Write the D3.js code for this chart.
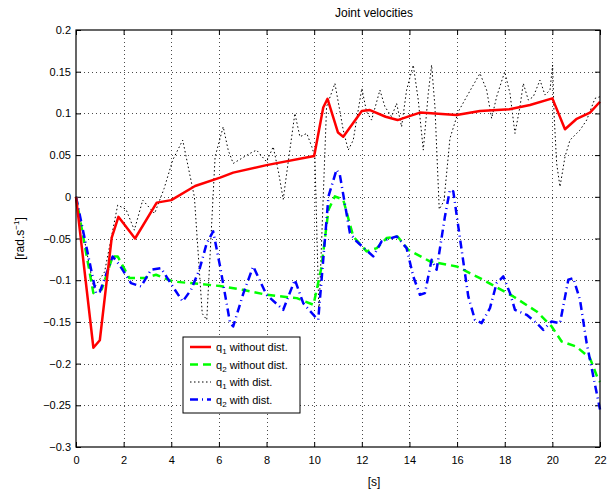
<!DOCTYPE html>
<html>
<head>
<meta charset="utf-8">
<script src="https://cdn.jsdelivr.net/npm/d3@7"></script>
<style>
  body { margin: 0; background: #fff; }
  svg { display: block; font-family: "Liberation Sans", Arial, sans-serif; }
</style>
</head>
<body>
<div class="main"></div>
<script>
// q1 without disturbance (red solid)
const q1NoDistT = [0, 0.73, 1.0, 1.5, 1.78, 2.48, 3.39, 4.0, 5.0, 6.05, 6.6, 8.0, 10.0, 10.38, 10.56, 11.0, 11.22, 12.0, 12.34, 13.0, 13.5, 14.44, 15.98, 16.96, 18.2, 19.06, 20.0, 20.53, 21.0, 21.58, 22];
const q1NoDistV = [0, -0.181, -0.172, -0.049, -0.024, -0.050, -0.007, -0.004, 0.013, 0.023, 0.029, 0.038, 0.049, 0.107, 0.1175, 0.077, 0.072, 0.103, 0.104, 0.096, 0.092, 0.101, 0.098, 0.103, 0.105, 0.110, 0.118, 0.081, 0.093, 0.101, 0.114];

// q2 without disturbance (green dashed)
const q2NoDistT = [0, 0.73, 1.08, 1.54, 1.75, 2.24, 2.87, 3.36, 4.06, 5.18, 6.05, 7.0, 8.0, 9.27, 9.97, 10.3, 10.6, 10.87, 11.22, 11.64, 12.2, 12.63, 13.04, 13.5, 13.95, 14.86, 15.98, 16.96, 18.36, 19.34, 19.97, 20.39, 21.0, 21.58, 21.93, 22];
const q2NoDistV = [0, -0.1155, -0.111, -0.0715, -0.0715, -0.0975, -0.0975, -0.0935, -0.1015, -0.1045, -0.107, -0.1115, -0.1175, -0.1215, -0.1295, -0.0855, -0.0155, 0.0005, -0.0035, -0.0475, -0.0655, -0.0615, -0.0495, -0.0475, -0.0635, -0.0775, -0.0835, -0.0975, -0.1195, -0.1375, -0.1555, -0.1735, -0.1795, -0.1935, -0.2195, -0.222];

// q1 with disturbance (black dotted)
const q1DistT = [0, 0.75, 1.2, 1.75, 2.1, 2.45, 2.8, 3.3, 3.7, 4.06, 4.48, 4.97, 5.3, 5.49, 5.84, 6.18, 6.39, 6.6, 7.3, 7.58, 8.0, 8.28, 8.5, 8.7, 8.92, 9.19, 9.4, 9.69, 9.9, 10.03, 10.2, 10.52, 10.87, 11.22, 11.43, 11.64, 12.0, 12.2, 12.41, 12.76, 12.97, 13.25, 13.46, 13.67, 13.88, 14.16, 14.37, 14.58, 14.79, 14.93, 15.07, 15.25, 15.45, 15.7, 16.05, 16.4, 16.96, 17.24, 17.45, 17.66, 18.0, 18.22, 18.43, 18.64, 18.78, 18.99, 19.2, 19.48, 19.69, 19.9, 20.01, 20.07, 20.18, 20.32, 20.53, 20.74, 21.16, 21.44, 21.79, 22];
const q1DistV = [0, -0.11, -0.09, -0.01, -0.015, -0.04, -0.004, -0.02, 0.01, 0.044, 0.068, 0.0, -0.14, -0.1475, 0.048, 0.084, 0.056, 0.040, 0.052, 0.056, 0.042, 0.06, 0.03, -0.003, 0.044, 0.1, 0.072, 0.076, 0.06, 0.048, -0.14, 0.108, 0.136, 0.080, 0.056, 0.068, 0.130, 0.102, 0.092, 0.128, 0.108, 0.096, 0.112, 0.084, 0.128, 0.158, 0.116, 0.056, 0.124, 0.158, 0.108, -0.015, -0.005, 0.07, 0.102, 0.12, 0.148, 0.128, 0.094, 0.12, 0.15, 0.124, 0.076, 0.108, 0.136, 0.116, 0.12, 0.14, 0.122, 0.128, 0.158, 0.1, 0.04, 0.012, 0.048, 0.068, 0.08, 0.092, 0.118, 0.12];

// q2 with disturbance (blue dash-dot)
const q2DistT = [0, 0.84, 1.0, 1.54, 1.82, 2.31, 2.73, 3.15, 3.57, 4.06, 4.48, 4.83, 5.18, 5.49, 5.76, 6.05, 6.47, 6.6, 7.03, 7.44, 8.0, 8.7, 9.19, 9.54, 10.03, 10.17, 10.45, 10.6, 10.94, 11.08, 11.5, 11.78, 12.48, 12.83, 13.46, 13.88, 14.16, 14.44, 14.65, 14.93, 15.14, 15.49, 15.7, 15.84, 16.19, 16.47, 16.75, 17.03, 17.38, 17.66, 17.94, 18.22, 18.43, 18.92, 19.34, 19.62, 19.97, 20.32, 20.67, 20.88, 21.16, 21.44, 21.72, 22];
const q2DistV = [0, -0.1155, -0.114, -0.0715, -0.0815, -0.1035, -0.1075, -0.0875, -0.0855, -0.1075, -0.1255, -0.1115, -0.0875, -0.0555, -0.0415, -0.0835, -0.1515, -0.1555, -0.1155, -0.0835, -0.1175, -0.1355, -0.0995, -0.1275, -0.1435, -0.1475, -0.0515, 0.0005, 0.0325, 0.026, -0.0435, -0.0535, -0.0715, -0.0535, -0.0475, -0.0615, -0.0955, -0.1175, -0.1155, -0.0755, -0.0875, -0.0235, 0.0085, 0.0065, -0.0635, -0.1195, -0.1475, -0.1515, -0.1335, -0.1035, -0.0955, -0.1155, -0.1355, -0.1415, -0.1515, -0.1595, -0.1495, -0.1515, -0.0995, -0.0975, -0.1235, -0.1755, -0.2155, -0.255];

const xTicks = [0, 2, 4, 6, 8, 10, 12, 14, 16, 18, 20, 22];
const yTicks = [-0.3, -0.25, -0.2, -0.15, -0.1, -0.05, 0, 0.05, 0.1, 0.15, 0.2];

const series = [
  { name: "1", label: " without dist.", t: q1NoDistT, v: q1NoDistV, color: "#ff0000", width: 2.5, dash: null },
  { name: "2", label: " without dist.", t: q2NoDistT, v: q2NoDistV, color: "#00ff00", width: 2.5, dash: "8,5" },
  { name: "1", label: " with dist.", t: q1DistT, v: q1DistV, color: "#000000", width: 1, dash: "1.5,2.5" },
  { name: "2", label: " with dist.", t: q2DistT, v: q2DistV, color: "#0000ff", width: 2.5, dash: "8,4,1,4" }
];

const width = 608, height = 495;
const margin = { left: 76, right: 8, top: 30, bottom: 48 };

let svg = d3.select("div.main").append("svg")
  .attr("width", width)
  .attr("height", height);

let x = d3.scaleLinear().domain([0, 22]).range([margin.left, width - margin.right]);
let y = d3.scaleLinear().domain([-0.3, 0.2]).range([height - margin.bottom, margin.top]);

let fmt = function(d) {
  if (Math.abs(d) < 1e-9) return "0";
  let s = String(+Math.abs(d).toFixed(2));
  return (d < 0 ? "\u2212" : "") + s;
};

// grid
let grid = svg.append("g").attr("class", "grid");
grid.selectAll("line.gx").data(xTicks.slice(1, -1)).enter().append("line")
  .attr("x1", d => Math.round(x(d)) + 0.5).attr("x2", d => Math.round(x(d)) + 0.5)
  .attr("y1", y(0.2)).attr("y2", y(-0.3))
  .attr("stroke", "#000").attr("stroke-width", 1).attr("stroke-dasharray", "1,3").attr("opacity", 0.7);
grid.selectAll("line.gy").data(yTicks.slice(1, -1)).enter().append("line")
  .attr("y1", d => Math.round(y(d)) + 0.5).attr("y2", d => Math.round(y(d)) + 0.5)
  .attr("x1", x(0)).attr("x2", x(22))
  .attr("stroke", "#000").attr("stroke-width", 1).attr("stroke-dasharray", "1,3").attr("opacity", 0.7);

// axes: ticks inside, on all four sides
let plotW = x(22) - x(0), plotH = y(-0.3) - y(0.2);

svg.append("g")
  .attr("transform", "translate(0," + y(-0.3) + ")")
  .call(d3.axisBottom(x).tickValues(xTicks).tickSizeInner(-5).tickSizeOuter(0).tickPadding(9).tickFormat(d3.format("d")));
svg.append("g")
  .attr("transform", "translate(0," + y(0.2) + ")")
  .call(d3.axisTop(x).tickValues(xTicks).tickSizeInner(-5).tickSizeOuter(0).tickFormat(""));
svg.append("g")
  .attr("transform", "translate(" + x(0) + ",0)")
  .call(d3.axisLeft(y).tickValues(yTicks).tickSizeInner(-5).tickSizeOuter(0).tickPadding(5).tickFormat(fmt));
svg.append("g")
  .attr("transform", "translate(" + x(22) + ",0)")
  .call(d3.axisRight(y).tickValues(yTicks).tickSizeInner(-5).tickSizeOuter(0).tickFormat(""));

svg.selectAll(".domain").remove();
svg.selectAll(".tick text").attr("font-size", "11px").attr("fill", "#000")
  .attr("font-family", "Liberation Sans, Arial, sans-serif");
svg.selectAll(".tick line").attr("stroke", "#000");

// lines
let line = d3.line()
  .x(d => x(d[0]))
  .y(d => y(d[1]));

let plot = svg.append("g");
let order = [2, 1, 3, 0];
order.forEach(function(i) {
  let s = series[i];
  plot.append("path")
    .datum(s.t.map((t, k) => [t, s.v[k]]))
    .attr("d", line)
    .attr("fill", "none")
    .attr("stroke", s.color)
    .attr("stroke-width", s.width)
    .attr("stroke-dasharray", s.dash)
    .attr("stroke-linejoin", "round");
});

// box
svg.append("rect")
  .attr("x", x(0)).attr("y", y(0.2))
  .attr("width", plotW).attr("height", plotH)
  .attr("fill", "none").attr("stroke", "#000").attr("stroke-width", 1.2);

// title and labels
svg.append("text")
  .text("Joint velocities")
  .attr("x", 374).attr("y", 17)
  .attr("text-anchor", "middle")
  .attr("font-size", "12px");

svg.append("text")
  .text("[s]")
  .attr("x", 374).attr("y", 486)
  .attr("text-anchor", "middle")
  .attr("font-size", "12px");

let ylab = svg.append("text")
  .attr("transform", "translate(24," + ((y(0.2) + y(-0.3)) / 2) + ")rotate(-90)")
  .attr("text-anchor", "middle")
  .attr("font-size", "12px");
ylab.append("tspan").text("[rad.s");
ylab.append("tspan").text("\u22121").attr("font-size", "8px").attr("dy", "-5");
ylab.append("tspan").text("]").attr("dy", "5");

// legend
let legend = svg.append("g").attr("transform", "translate(183,337)");
legend.append("rect")
  .attr("x", 0).attr("y", 0).attr("width", 117).attr("height", 76)
  .attr("fill", "#fff").attr("stroke", "#000").attr("stroke-width", 1);

series.forEach(function(s, i) {
  let ly = 10 + i * 17.5;
  legend.append("line")
    .attr("x1", 7).attr("x2", 28).attr("y1", ly).attr("y2", ly)
    .attr("stroke", s.color)
    .attr("stroke-width", s.width)
    .attr("stroke-dasharray", s.dash);
  let tx = legend.append("text")
    .attr("x", 33).attr("y", ly + 4)
    .attr("font-size", "11px");
  tx.append("tspan").text("q");
  tx.append("tspan").text(s.name).attr("font-size", "8px").attr("dy", "3");
  tx.append("tspan").text(s.label).attr("dy", "-3");
});
</script>
</body>
</html>
